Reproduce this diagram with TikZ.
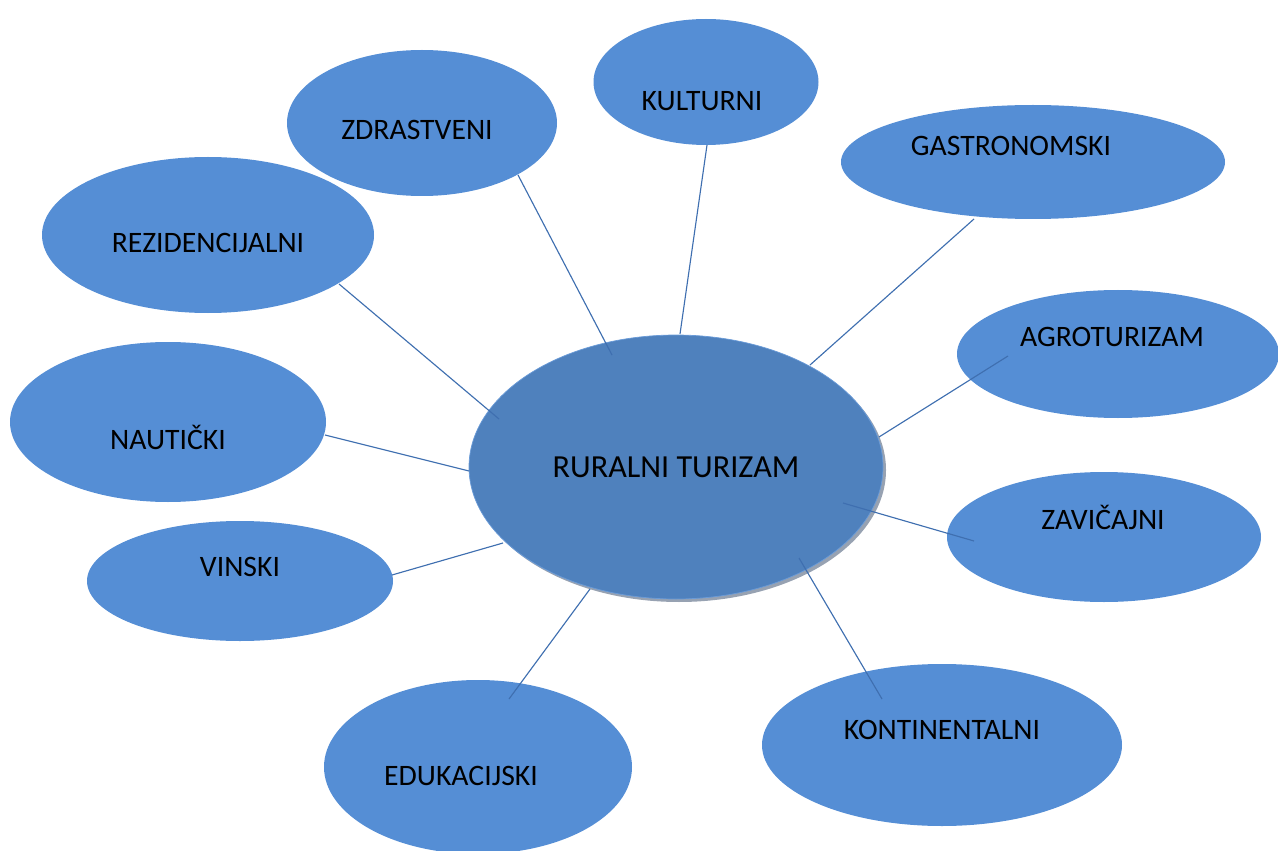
\documentclass[tikz,border=0pt]{standalone}
\usepackage{fontspec}
\setmainfont{Carlito}
\usetikzlibrary{shapes.geometric}
\definecolor{BubbleBlue}{HTML}{558ED5}
\definecolor{HubBlue}{HTML}{4F81BD}
\definecolor{HubEdge}{HTML}{6A9BD8}
\definecolor{ShadowGray}{HTML}{97A2B2}
\definecolor{SpokeBlue}{HTML}{3F6FB0}

\tikzset{
  size/.style 2 args={minimum width=#1*0.02cm, minimum height=#2*0.02cm},
  bubble/.style={ellipse, fill=BubbleBlue, inner sep=0pt},
  lbl/.style={font=\fontsize{16.9}{20}\selectfont, text=black},
  spoke/.style={SpokeBlue, line width=0.65pt},
}

\begin{document}
\begin{tikzpicture}[x=0.02cm, y=-0.02cm]
                \useasboundingbox (0,0) rectangle (1278,851);
                \clip (0,0) rectangle (1278,851);

                % hub
                \node[ellipse, fill=ShadowGray, size={414}{264}] (shadow) at (679,470) {};
                \node[ellipse, fill=HubBlue, draw=HubEdge, line width=0.4pt, size={414}{264}] (rur) at (676,467) {};
                \node[font=\fontsize{18.3}{22}\selectfont] (rurtxt) at (rur.center) {RURALNI TURIZAM};

                % outer bubbles
                \node[bubble, size={270}{146}] (zdr) at (422,123) {};
                \node[bubble, size={225}{126}] (kul) at (706,82) {};
                \node[bubble, size={384}{114}] (gas) at (1033,162) {};
                \node[bubble, size={332}{156}] (rez) at (208,235) {};
                \node[bubble, size={322}{128}] (agr) at (1118,354) {};
                \node[bubble, size={316}{160}] (nau) at (168,422) {};
                \node[bubble, size={314}{130}] (zav) at (1104,537) {};
                \node[bubble, size={306}{120}] (vin) at (240,581) {};
                \node[bubble, size={308}{174}] (edu) at (478,767) {};
                \node[bubble, size={360}{162}] (kon) at (942,745) {};

                \node[lbl] at ([shift={(-5,7)}]zdr.center) {ZDRASTVENI};
                \node[lbl] at ([shift={(-4,19)}]kul.center) {KULTURNI};
                \node[lbl] at ([shift={(-22,-16)}]gas.center) {GASTRONOMSKI};
                \node[lbl] at ([shift={(0,8)}]rez.center) {REZIDENCIJALNI};
                \node[lbl] at ([shift={(-6,-17)}]agr.center) {AGROTURIZAM};
                \node[lbl] at ([shift={(0,15)}]nau.center) {NAUTIČKI};
                \node[lbl] at ([shift={(-1,-20)}]zav.center) {ZAVIČAJNI};
                \node[lbl] at ([shift={(0,-14)}]vin.center) {VINSKI};
                \node[lbl] at ([shift={(-17,9)}]edu.center) {EDUKACIJSKI};
                \node[lbl] at ([shift={(0,-15)}]kon.center) {KONTINENTALNI};

                % spoke ends
                \coordinate (zdr-in) at (612,355);  \coordinate (zdr-out) at (518,175);
                \coordinate (kul-in) at (680,334);  \coordinate (kul-out) at (707,145);
                \coordinate (gas-in) at (810,365);  \coordinate (gas-out) at (974,219);
                \coordinate (agr-in) at (879,437);  \coordinate (agr-out) at (1008,356);
                \coordinate (zav-in) at (843,503);  \coordinate (zav-out) at (974,541);
                \coordinate (kon-in) at (799,558);  \coordinate (kon-out) at (882,699);
                \coordinate (edu-in) at (590,589);  \coordinate (edu-out) at (509,699);
                \coordinate (vin-in) at (503,543);  \coordinate (vin-out) at (392,575);
                \coordinate (nau-in) at (469,471);  \coordinate (nau-out) at (325,435);
                \coordinate (rez-in) at (499,419);  \coordinate (rez-out) at (339,284);

                \foreach \s in {zdr,kul,gas,agr,zav,kon,edu,vin,nau,rez}
                  \draw[spoke] (\s-in) -- (\s-out);
            \end{tikzpicture}
\end{document}
